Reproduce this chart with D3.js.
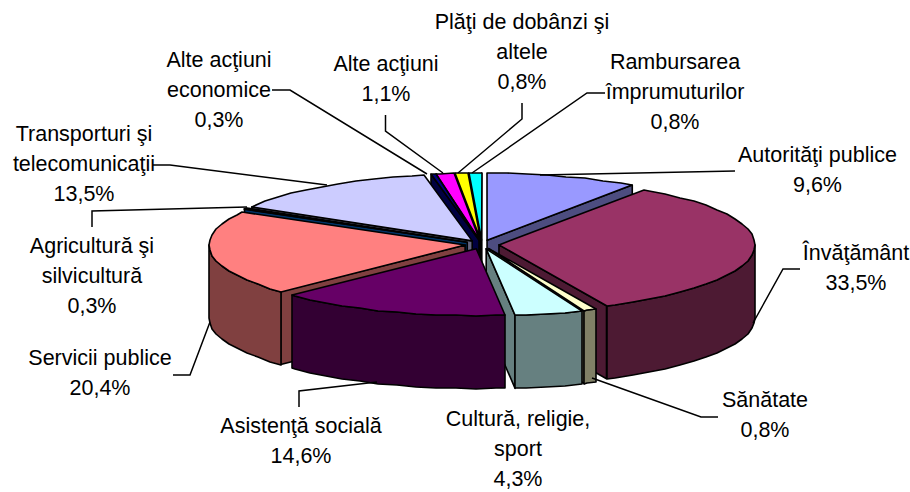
<!DOCTYPE html>
<html><head><meta charset="utf-8">
<script src="https://cdnjs.cloudflare.com/ajax/libs/d3/7.8.5/d3.min.js"></script>
<style>html,body{margin:0;padding:0;background:#fff}svg{display:block}text{font-family:"Liberation Sans",Arial,sans-serif;font-size:21.5px;fill:#000}</style>
</head><body><svg id="c" width="910" height="492"></svg>
<script>
const categories = ["Autorităţi publice","Învăţământ","Sănătate","Cultură, religie, sport","Asistenţă socială","Servicii publice","Agricultură şi silvicultură","Transporturi şi telecomunicaţii","Alte acţiuni economice","Alte acţiuni","Plăţi de dobânzi şi altele","Rambursarea împrumuturilor"];
const values = [9.6,33.5,0.8,4.3,14.6,20.4,0.3,13.5,0.3,1.1,0.8,0.8];
const topColors = ["#9999FF","#993366","#FFFFCC","#CCFFFF","#660066","#FF8080","#0066CC","#CCCCFF","#000080","#FF00FF","#FFFF00","#00FFFF"];
const sideColors = ["#4D4D80","#4D1A33","#808066","#668080","#330033","#804040","#003366","#666680","#000040","#800080","#808000","#008080"];
const labelLines = [["Autorităţi publice"],["Învăţământ"],["Sănătate"],["Cultură, religie,","sport"],["Asistenţă socială"],["Servicii publice"],["Agricultură şi","silvicultură"],["Transporturi şi","telecomunicaţii"],["Alte acţiuni","economice"],["Alte acţiuni"],["Plăţi de dobânzi şi","altele"],["Rambursarea","împrumuturilor"]];

// layout
const cx=482, cy=244.5, rx=256, ry=67, depth=73, explode=0.0665;
const drawOrder=[11,10,9,8,7,6,5,0,1,2,3,4];
const labelPos=[[817.5,155],[856,253],[765,400],[518,419],[301,426],[100,358],[92,246],[84,134],[219,60],[386,64],[522,22],[675,62]];
const lineGap=30.2;
const leaders=[
 [[735,171],[540,175]],
 [[800,269],[783,269],[753,323]],
 [[718,417],[701,417],[592,378]],
 null,
 [[299,407],[299,391],[377,382]],
 [[173,375],[190,375],[210,322]],
 [[92,227],[92,211],[247,207]],
 [[153,165],[170,165],[327,185]],
 [[272,90],[290,90],[427,174]],
 [[385.5,115],[385.5,131],[443,173]],
 [[522,103],[522,119],[458,173]],
 [[605,93],[587,93],[472,173]]
];

const svg=d3.select("#c");
const arcs=d3.pie().sort(null).startAngle(0).endAngle(2*Math.PI)(values);
const line=d3.line();
const stroke={stroke:"#000",w:1.6};

function polygon(pts,fill){
  svg.append("path").attr("d",line(pts)+"Z").attr("fill",fill)
     .attr("stroke",stroke.stroke).attr("stroke-width",stroke.w).attr("stroke-linejoin","round");
}
function rimAngles(a,b){
  const step=Math.PI/40, out=[a];
  let t=Math.ceil(a/step+1e-6)*step;
  while(t<b-1e-6){out.push(t);t+=step;}
  out.push(b);
  return out;
}
drawOrder.forEach(i=>{
  const d=arcs[i], a=d.startAngle, b=d.endAngle, mid=(a+b)/2;
  const ox=cx+Math.sin(mid)*rx*explode, oy=cy-Math.cos(mid)*ry*explode;
  const rim=t=>[ox+Math.sin(t)*rx, oy-Math.cos(t)*ry];
  const rimR=t=>{const p=rim(t);return [Math.round(p[0]),Math.round(p[1])];};
  const down=p=>[p[0],p[1]+depth];
  const apex=[ox,oy];
  // cut faces
  if(Math.sin(a)<0){const r=rim(a);polygon([apex,r,down(r),down(apex)],sideColors[i]);}
  if(Math.sin(b)>0){const r=rim(b);polygon([apex,r,down(r),down(apex)],sideColors[i]);}
  // outer wall
  const wa=Math.max(a,Math.PI/2), wb=Math.min(b,3*Math.PI/2);
  if(wb>wa){
    const top=rimAngles(wa,wb).map(rimR);
    polygon(top.concat(top.slice().reverse().map(down)),sideColors[i]);
  }
  // top face
  polygon([apex].concat(rimAngles(a,b).map(rimR)),topColors[i]);
});

leaders.forEach(p=>{ if(p) svg.append("path").attr("d",line(p)).attr("fill","none").attr("stroke","#000").attr("stroke-width",1.5); });

categories.forEach((c,i)=>{
  const [x,y]=labelPos[i];
  const lines=labelLines[i].concat([d3.format(".1f")(values[i]).replace(".",",")+"%"]);
  const t=svg.append("text").attr("text-anchor","middle");
  lines.forEach((l,k)=>t.append("tspan").attr("x",x).attr("y",y+7+k*lineGap).text(l));
});
</script></body></html>
